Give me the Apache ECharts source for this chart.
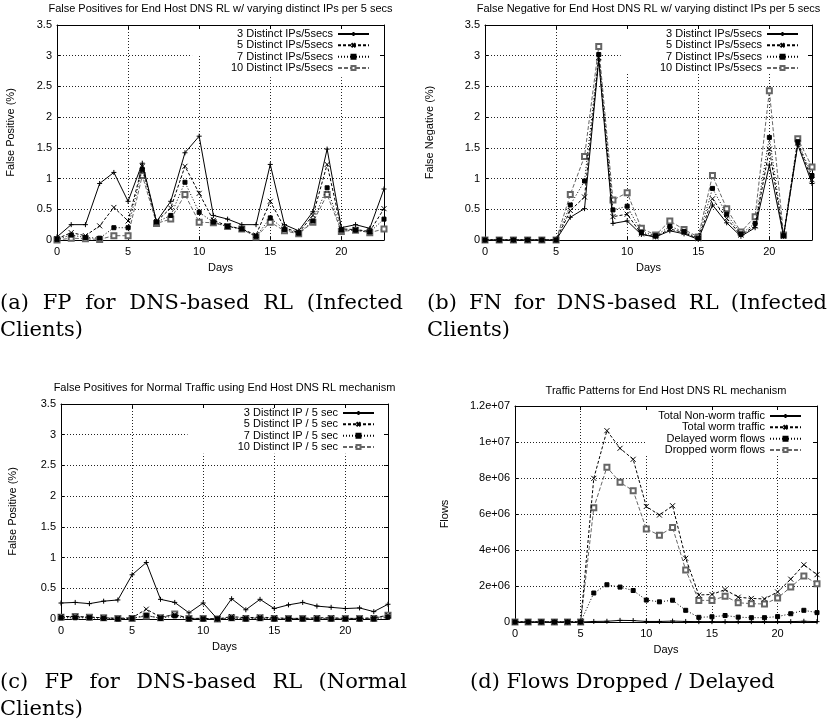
<!DOCTYPE html>
<html><head><meta charset="utf-8">
<script src="https://cdn.jsdelivr.net/npm/echarts@6/dist/echarts.min.js"></script>
<style>html,body{margin:0;padding:0;background:#fff}#c{width:829px;height:728px}</style>
</head><body><div id="c"></div>
<script>
// ---------------- data ----------------
const days = [0,1,2,3,4,5,6,7,8,9,10,11,12,13,14,15,16,17,18,19,20,21,22,23];

const namesInf = ['3 Distinct IPs/5secs','5 Distinct IPs/5secs','7 Distinct IPs/5secs','10 Distinct IPs/5secs'];
const namesNorm = ['3 Distinct IP / 5 sec','5 Distinct IP / 5 sec','7 Distinct IP / 5 sec','10 Distinct IP / 5 sec'];
const namesFlow = ['Total Non-worm traffic','Total worm traffic','Delayed worm flows','Dropped worm flows'];

const fpInf3  = [0.05,0.25,0.25,0.92,1.10,0.63,1.25,0.30,0.63,1.42,1.69,0.40,0.34,0.25,0.25,1.23,0.25,0.15,0.46,1.48,0.20,0.25,0.19,0.83];
const fpInf5  = [0.02,0.12,0.07,0.23,0.53,0.31,1.20,0.30,0.52,1.20,0.76,0.32,0.23,0.18,0.08,0.63,0.20,0.12,0.40,1.23,0.18,0.17,0.14,0.51];
const fpInf7  = [0.01,0.08,0.04,0.03,0.20,0.20,1.15,0.29,0.40,0.94,0.45,0.29,0.22,0.18,0.06,0.36,0.17,0.11,0.31,0.85,0.16,0.16,0.13,0.34];
const fpInf10 = [0.00,0.03,0.02,0.01,0.07,0.07,1.05,0.27,0.34,0.74,0.29,0.28,0.22,0.18,0.05,0.29,0.15,0.10,0.29,0.74,0.14,0.16,0.12,0.18];

const fnInf3  = [0,0,0,0,0,0,0.37,0.51,2.93,0.27,0.31,0.09,0.05,0.15,0.10,0.01,0.57,0.28,0.06,0.20,1.22,0.06,1.55,0.92];
const fnInf5  = [0,0,0,0,0,0,0.48,0.70,2.97,0.38,0.42,0.10,0.05,0.18,0.12,0.02,0.67,0.35,0.08,0.23,1.48,0.06,1.58,0.98];
const fnInf7  = [0,0,0,0,0,0,0.57,0.96,3.02,0.49,0.55,0.13,0.07,0.22,0.14,0.03,0.84,0.42,0.10,0.27,1.67,0.07,1.60,1.05];
const fnInf10 = [0,0,0,0,0,0,0.74,1.36,3.15,0.65,0.77,0.19,0.08,0.31,0.17,0.05,1.05,0.51,0.13,0.38,2.43,0.08,1.65,1.19];

const fpNorm3  = [0.26,0.27,0.25,0.29,0.31,0.72,0.92,0.32,0.27,0.10,0.26,0.00,0.33,0.15,0.32,0.17,0.23,0.27,0.21,0.19,0.17,0.18,0.12,0.24];
const fpNorm5  = [0.04,0.04,0.03,0.02,0.01,0.02,0.16,0.03,0.07,0.01,0.01,0.00,0.04,0.02,0.03,0.02,0.01,0.01,0.02,0.02,0.01,0.01,0.02,0.06];
const fpNorm7  = [0.02,0.02,0.02,0.01,0.00,0.01,0.06,0.01,0.05,0.00,0.00,0.00,0.01,0.00,0.01,0.00,0.00,0.00,0.00,0.00,0.00,0.00,0.00,0.03];
const fpNorm10 = [0.03,0.04,0.03,0.02,0.01,0.01,0.05,0.02,0.08,0.01,0.01,0.00,0.02,0.01,0.02,0.01,0.01,0.01,0.01,0.01,0.01,0.01,0.01,0.06];

const flowNonWorm = [0,0,0,0,0,0,30000,40000,90000,80000,30000,30000,50000,30000,20000,20000,20000,20000,20000,20000,20000,20000,40000,20000];
const flowWorm    = [0,0,0,0,0,0,7980000,10630000,9650000,9040000,6420000,5940000,6460000,3540000,1500000,1530000,1800000,1380000,1310000,1280000,1670000,2380000,3180000,2630000];
const flowDelayed = [0,0,0,0,0,0,1610000,2070000,1940000,1750000,1220000,1120000,1210000,650000,260000,290000,360000,270000,240000,240000,300000,460000,650000,520000];
const flowDropped = [0,0,0,0,0,0,6350000,8600000,7760000,7290000,5170000,4820000,5250000,2890000,1200000,1200000,1430000,1070000,1020000,1000000,1330000,1940000,2560000,2130000];

const flowTickLabels = ['0','2e+06','4e+06','6e+06','8e+06','1e+07','1.2e+07'];

const titles = [
  'False Positives for End Host DNS RL w/ varying distinct IPs per 5 secs',
  'False Negative for End Host DNS RL w/ varying distinct IPs per 5 secs',
  'False Positives for Normal Traffic using End Host DNS RL mechanism',
  'Traffic Patterns for End Host DNS RL mechanism'
];
const yNames = ['False Positive (%)','False Negative (%)','False Positive (%)','Flows'];
const xName = 'Days';
const captionA = ['(a) FP for DNS-based RL (Infected','Clients)'];
const captionB = ['(b) FN for DNS-based RL (Infected','Clients)'];
const captionC = ['(c) FP for DNS-based RL (Normal','Clients)'];
const captionD = ['(d) Flows Dropped / Delayed'];

// ---------------- layout / style ----------------
const SANS = 'Liberation Sans';
const SERIF = 'DejaVu Serif';
const capFont = '21px "' + SERIF + '"';
const grids = [
  {left:57, top:25, width:327, height:215},
  {left:485, top:25, width:327, height:215},
  {left:61, top:404, width:327, height:215},
  {left:515, top:406, width:302, height:216}
];
const styles = [
  {symbol:'path://M5,0L5,10M0,5L10,5', size:5, color:'#000', type:'solid', z:5},
  {symbol:'path://M0,0L10,10M10,0L0,10', size:5, color:'#000', type:[3,2], z:4},
  {symbol:'rect', size:4, color:'#000', type:[1,2], z:3},
  {symbol:'emptyRect', size:5, color:'#666', type:[4,2], z:2}
];
const yMax = [3.5,3.5,3.5,12000000];
const yInt = [0.5,0.5,0.5,2000000];
const yNameGap = [41,50,43,65];

// grid line segments (data coords) per panel
const gridSegs = [
  {h:[[0.5,23],[1,23],[1.5,23],[2,23],[2.5,23],[3,9.5]], v:[[5,3.5],[10,3.0],[15,2.65],[20,2.65]]},
  {h:[[0.5,23],[1,23],[1.5,23],[2,23],[2.5,23],[3,9.55]], v:[[5,3.5],[10,2.72],[15,2.72],[20,2.72]]},
  {h:[[0.5,23],[1,23],[1.5,23],[2,23],[2.5,23],[3,8.9]], v:[[5,3.5],[10,2.69],[15,2.69],[20,2.69]]},
  {h:[[2e6,23],[4e6,23],[6e6,23],[8e6,23],[1e7,10]], v:[[5,1.2e7],[10,9.27e6],[15,9.27e6],[20,9.27e6]]}
];

function mkSeries(name, vals, gi, st, withGrid) {
  const s = {
    type:'line', name, xAxisIndex:gi, yAxisIndex:gi,
    data: days.map((d,i)=>[d, vals[i]]),
    symbol: st.symbol, symbolSize: st.size, showAllSymbol:true,
    lineStyle:{color:st.color, width:1, type:st.type},
    itemStyle:{color:st.color, borderColor:st.color, borderWidth:1},
    emphasis:{disabled:true}, animation:false, silent:true, z:st.z
  };
  if (withGrid) {
    const g = gridSegs[gi];
    const segs = [];
    g.h.forEach(([y,x2]) => segs.push([{coord:[0,y]},{coord:[x2,y]}]));
    g.v.forEach(([x,y2]) => segs.push([{coord:[x,0]},{coord:[x,y2]}]));
    s.markLine = {silent:true, animation:false, symbol:['none','none'], label:{show:false},
      lineStyle:{color:'#222', width:1, type:[1,2]}, emphasis:{disabled:true}, data:segs, z:1};
  }
  return s;
}

const panels = [
  {names:namesInf, vals:[fpInf3,fpInf5,fpInf7,fpInf10]},
  {names:namesInf, vals:[fnInf3,fnInf5,fnInf7,fnInf10]},
  {names:namesNorm, vals:[fpNorm3,fpNorm5,fpNorm7,fpNorm10]},
  {names:namesFlow, vals:[flowNonWorm,flowWorm,flowDelayed,flowDropped]}
];
const series = [];
panels.forEach((p,gi)=>p.vals.forEach((v,k)=>series.push(mkSeries(p.names[k], v, gi, styles[k], k===0))));

const axFont = {fontFamily:SANS, fontSize:11, color:'#000'};
const xAxes = [], yAxes = [];
['bottom','top'].forEach(pos => grids.forEach((g,gi) => xAxes.push({
  type:'value', gridIndex:gi, position:pos, min:0, max:23, interval:5,
  axisLine:{onZero:false, lineStyle:{color:'#000', width:1}},
  axisTick:{inside:true, length:4, lineStyle:{color:'#000'}},
  axisLabel: pos==='bottom' ? Object.assign({margin:6, showMaxLabel:false}, axFont) : {show:false},
  splitLine:{show:false},
  name: pos==='bottom' ? xName : '', nameLocation:'middle', nameGap:22, nameTextStyle:axFont
})));
['left','right'].forEach(pos => grids.forEach((g,gi) => yAxes.push({
  type:'value', gridIndex:gi, position:pos, min:0, max:yMax[gi], interval:yInt[gi],
  axisLine:{onZero:false, lineStyle:{color:'#000', width:1}},
  axisTick:{inside:true, length:4, lineStyle:{color:'#000'}},
  axisLabel: pos==='left' ? Object.assign({margin:5, formatter: gi===3 ? (v => flowTickLabels[Math.round(v/yInt[3])]) : null}, axFont) : {show:false},
  splitLine:{show:false},
  name: pos==='left' ? yNames[gi] : '', nameLocation:'middle', nameGap:yNameGap[gi], nameTextStyle:axFont
})));

const legendPos = [{right:459, top:28.5},{right:30, top:28.5},{right:454, top:407.5},{right:27, top:410.5}];
const legends = panels.map((p,gi)=>({
  data:p.names, orient:'vertical', align:'right', right:legendPos[gi].right, top:legendPos[gi].top,
  padding:0, itemWidth:31, itemHeight:5, itemGap:0.33, selectedMode:false,
  textStyle:{fontFamily:SANS, fontSize:11, color:'#000', lineHeight:11}
}));

// titles
const graphics = [];
const titlePos = [[220.5,9],[648.5,9],[224.5,388],[666,391]];
titles.forEach((t,i)=>graphics.push({type:'text', x:titlePos[i][0], y:titlePos[i][1],
  style:{text:t, fontFamily:SANS, fontSize:11, fill:'#000', align:'center', verticalAlign:'middle'}}));

// captions (justified first lines)
const ctx = document.createElement('canvas').getContext('2d');
ctx.font = capFont;
function justified(line, x0, x1, y) {
  const words = line.split(' ');
  const ws = words.map(w=>ctx.measureText(w).width);
  const tot = ws.reduce((a,b)=>a+b,0);
  const gap = (x1-x0-tot)/(words.length-1);
  let x = x0;
  words.forEach((w,i)=>{ graphics.push({type:'text', x, y, style:{text:w, font:capFont, fill:'#000', verticalAlign:'middle'}}); x += ws[i]+gap; });
}
function plain(line, x, y) { graphics.push({type:'text', x, y, style:{text:line, font:capFont, fill:'#000', verticalAlign:'middle'}}); }
justified(captionA[0], 0, 403, 304); plain(captionA[1], 0, 331);
justified(captionB[0], 427, 827, 304); plain(captionB[1], 427, 331);
justified(captionC[0], 0, 407, 683); plain(captionC[1], 0, 710);
plain(captionD[0], 470, 683);

const chart = echarts.init(document.getElementById('c'), null, {renderer:'canvas'});
chart.setOption({
  backgroundColor:'#fff', animation:false,
  grid: grids.map(g=>Object.assign({containLabel:false}, g)),
  xAxis:xAxes, yAxis:yAxes, legend:legends, series, graphic:graphics
});
</script></body></html>
